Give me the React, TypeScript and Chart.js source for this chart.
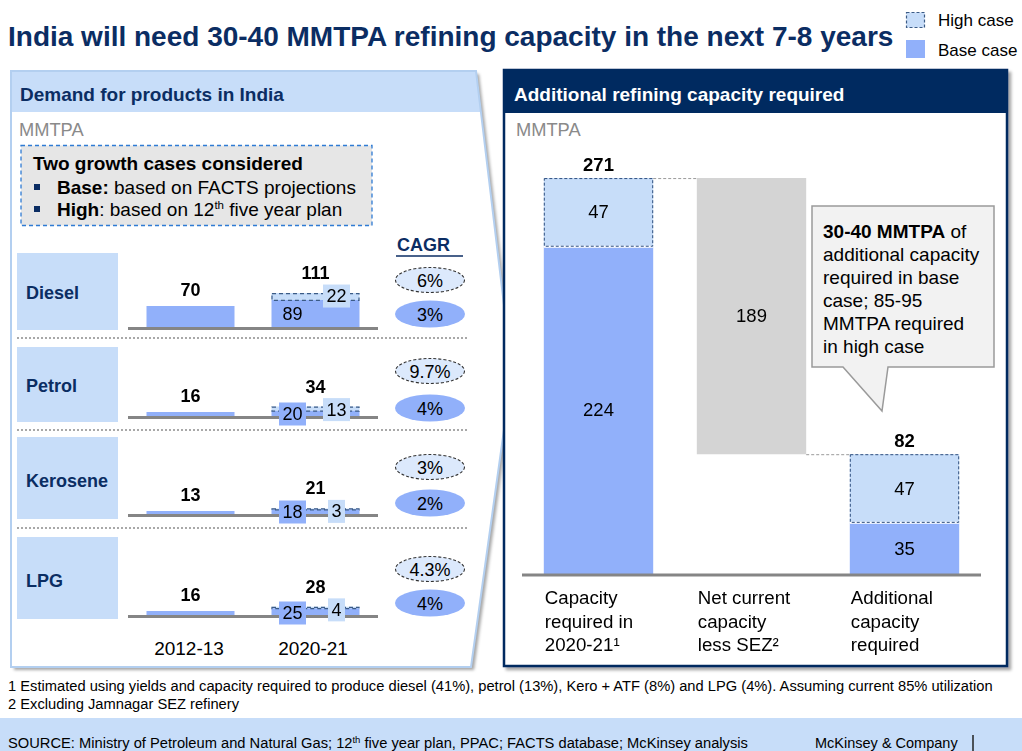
import React, { useEffect, useRef } from "react";
import { Chart, registerables } from "chart.js";

Chart.register(...registerables);

const FONT = "'Liberation Sans', Arial, Helvetica, sans-serif";
const NAVY = "#002a60";
const TEXT_NAVY = "#0b2d63";
const BASE_BLUE = "#91b0fa";
const HIGH_BLUE = "#c7ddf9";
const GRAY_BAR = "#d4d4d4";
const AXIS_GRAY = "#858585";

// ---------- Data ----------
const demandYears = ["2012-13", "2020-21"];
const productNames = ["Diesel", "Petrol", "Kerosene", "LPG"];
const dieselBase = [70, 89];
const dieselHigh = [0, 22];
const dieselTotal = [70, 111];
const petrolBase = [16, 20];
const petrolHigh = [0, 13];
const petrolTotal = [16, 34];
const keroseneBase = [13, 18];
const keroseneHigh = [0, 3];
const keroseneTotal = [13, 21];
const lpgBase = [16, 25];
const lpgHigh = [0, 4];
const lpgTotal = [16, 28];
const cagrHigh = ["6%", "9.7%", "3%", "4.3%"];
const cagrBase = ["3%", "4%", "2%", "4%"];

const capacityCategories = [
  ["Capacity", "required in", "2020-21\u00B9"],
  ["Net current", "capacity", "less SEZ\u00B2"],
  ["Additional", "capacity", "required"],
];
const capacityBase = [224, null, 35];
const capacityHigh = [47, null, 47];
const capacityNet = [null, 189, null];
const capacityTotal = [271, null, 82];

// ---------- Layout ----------
const demandRows = [
  { base: dieselBase, high: dieselHigh, total: dieselTotal, baseline: 328, box: [253, 330], labelY: 292, cagrY: [280, 314] },
  { base: petrolBase, high: petrolHigh, total: petrolTotal, baseline: 417, box: [347, 422], labelY: 385, cagrY: [371, 408] },
  { base: keroseneBase, high: keroseneHigh, total: keroseneTotal, baseline: 515, box: [437, 519], labelY: 480, cagrY: [467, 503] },
  { base: lpgBase, high: lpgHigh, total: lpgTotal, baseline: 616, box: [537, 619], labelY: 580, cagrY: [569, 603] },
];

const SMALL_H = 100;
const SMALL_BOTTOM_PAD = 22;
const SMALL_YMAX = (SMALL_H - SMALL_BOTTOM_PAD) / 0.315;

function DemandChart({ row }: { row: any }) {
  const ref = useRef<HTMLCanvasElement>(null);
  useEffect(() => {
    const { base, high, total } = row;
    const labelsPlugin = {
      id: "demandLabels",
      afterDatasetsDraw(chart: any) {
        const ctx = chart.ctx;
        const area = chart.chartArea;
        ctx.save();
        ctx.strokeStyle = AXIS_GRAY;
        ctx.lineWidth = 3;
        ctx.beginPath();
        ctx.moveTo(area.left, area.bottom + 0.5);
        ctx.lineTo(area.right, area.bottom + 0.5);
        ctx.stroke();
        const mBase = chart.getDatasetMeta(0);
        const mHigh = chart.getDatasetMeta(1);
        ctx.textAlign = "center";
        ctx.textBaseline = "middle";
        mBase.data.forEach((b: any, i: number) => {
          const h: any = mHigh.data[i];
          const hasHigh = high[i] > 0;
          const top = hasHigh ? h.y : b.y;
          if (hasHigh) {
            ctx.setLineDash([4, 3]);
            ctx.strokeStyle = "#3b5b86";
            ctx.lineWidth = 1.2;
            ctx.strokeRect(h.x - h.width / 2 + 0.5, h.y + 0.5, h.width - 1, h.base - h.y);
            ctx.setLineDash([]);
            ctx.font = `18px ${FONT}`;
            // base value
            const bx = b.x - 23;
            if (b.base - b.y >= 20) {
              ctx.fillStyle = "#000";
              ctx.fillText(String(base[i]), bx, (b.y + b.base) / 2 + 1);
            } else {
              const by = area.bottom - 3;
              ctx.fillStyle = BASE_BLUE;
              ctx.fillRect(bx - 13.5, by - 11.5, 27, 23);
              ctx.fillStyle = "#000";
              ctx.fillText(String(base[i]), bx, by + 1);
            }
            // high value
            const hx = b.x + 21;
            const hy = h.y + 3;
            const w = Math.max(17, ctx.measureText(String(high[i])).width + 7);
            ctx.fillStyle = HIGH_BLUE;
            ctx.fillRect(hx - w / 2, hy - 11.5, w, 23);
            ctx.fillStyle = "#000";
            ctx.fillText(String(high[i]), hx, hy + 1);
          }
          ctx.font = `bold 18px ${FONT}`;
          ctx.fillStyle = "#000";
          ctx.fillText(String(total[i]), b.x, top - (hasHigh ? 19 : 15));
        });
        ctx.restore();
      },
    };
    const chart = new Chart(ref.current as HTMLCanvasElement, {
      type: "bar",
      data: {
        labels: demandYears,
        datasets: [
          { label: "Base case", data: base, backgroundColor: BASE_BLUE, barPercentage: 0.704, categoryPercentage: 1 },
          { label: "High case", data: high, backgroundColor: HIGH_BLUE, barPercentage: 0.704, categoryPercentage: 1 },
        ],
      },
      options: {
        animation: false,
        responsive: false,
        maintainAspectRatio: false,
        events: [],
        layout: { padding: { left: 10, right: 10, top: 0, bottom: SMALL_BOTTOM_PAD } },
        plugins: { legend: { display: false }, tooltip: { enabled: false } },
        scales: {
          x: { display: false, stacked: true },
          y: { display: false, stacked: true, min: 0, max: SMALL_YMAX },
        },
      },
      plugins: [labelsPlugin],
    });
    return () => chart.destroy();
  }, [row]);
  const top = row.baseline - (SMALL_H - SMALL_BOTTOM_PAD);
  return (
    <canvas
      ref={ref}
      width={270}
      height={SMALL_H}
      style={{ position: "absolute", left: 118, top, width: 270, height: SMALL_H }}
    />
  );
}

const CAP_TOP = 140;
const CAP_H = 520;
const CAP_PAD_TOP = 10;
const CAP_PAD_BOTTOM = 86;
const CAP_YMAX = (CAP_H - CAP_PAD_TOP - CAP_PAD_BOTTOM) / 1.461;

function CapacityChart() {
  const ref = useRef<HTMLCanvasElement>(null);
  useEffect(() => {
    const requiredTotal = capacityTotal[0] as number;
    const netFloating = capacityNet.map((v) => (v == null ? null : [requiredTotal - v, requiredTotal]));
    const plugin = {
      id: "capLabels",
      afterDatasetsDraw(chart: any) {
        const ctx = chart.ctx;
        const area = chart.chartArea;
        const mB = chart.getDatasetMeta(0);
        const mH = chart.getDatasetMeta(1);
        const mN = chart.getDatasetMeta(2);
        ctx.save();
        // baseline
        ctx.strokeStyle = AXIS_GRAY;
        ctx.lineWidth = 3;
        ctx.beginPath();
        ctx.moveTo(area.left, area.bottom + 1);
        ctx.lineTo(area.right, area.bottom + 1);
        ctx.stroke();
        // high segments: separator + dashed border
        capacityHigh.forEach((v, i) => {
          if (v == null) return;
          const h: any = mH.data[i];
          const l = h.x - h.width / 2;
          ctx.strokeStyle = "#ffffff";
          ctx.lineWidth = 2;
          ctx.beginPath();
          ctx.moveTo(l, h.base);
          ctx.lineTo(l + h.width, h.base);
          ctx.stroke();
          ctx.setLineDash([3, 2]);
          ctx.strokeStyle = "#2f4f7f";
          ctx.lineWidth = 1;
          ctx.strokeRect(l + 0.5, h.y + 0.5, h.width - 1, h.base - h.y - 1);
          ctx.setLineDash([]);
        });
        // connectors
        const b0: any = mH.data[0];
        const n1: any = mN.data[1];
        const h2: any = mH.data[2];
        const nBot = Math.max(n1.y, n1.base);
        ctx.setLineDash([3, 2]);
        ctx.strokeStyle = "#9a9a9a";
        ctx.lineWidth = 1;
        ctx.beginPath();
        ctx.moveTo(b0.x + b0.width / 2, b0.y + 0.5);
        ctx.lineTo(n1.x - n1.width / 2, b0.y + 0.5);
        ctx.moveTo(n1.x + n1.width / 2, nBot + 0.5);
        ctx.lineTo(h2.x - h2.width / 2, nBot + 0.5);
        ctx.stroke();
        ctx.setLineDash([]);
        // values
        ctx.textAlign = "center";
        ctx.textBaseline = "middle";
        ctx.fillStyle = "#000";
        ctx.font = `18.5px ${FONT}`;
        capacityBase.forEach((v, i) => {
          if (v == null) return;
          const b: any = mB.data[i];
          ctx.fillText(String(v), b.x, (b.y + b.base) / 2 + 1);
        });
        capacityHigh.forEach((v, i) => {
          if (v == null) return;
          const h: any = mH.data[i];
          ctx.fillText(String(v), h.x, (h.y + h.base) / 2 + 1);
        });
        capacityNet.forEach((v, i) => {
          if (v == null) return;
          const n: any = mN.data[i];
          ctx.fillText(String(v), n.x, (n.y + n.base) / 2 + 1);
        });
        ctx.font = `bold 18.5px ${FONT}`;
        capacityTotal.forEach((v, i) => {
          if (v == null) return;
          const h: any = mH.data[i];
          ctx.fillText(String(v), h.x, h.y - 12);
        });
        // category labels
        ctx.font = `18.7px ${FONT}`;
        ctx.textAlign = "left";
        capacityCategories.forEach((lines, i) => {
          const el: any = mB.data[i] && !isNaN(mB.data[i].x) ? mB.data[i] : mN.data[i];
          const x = el.x - el.width / 2 + 1;
          lines.forEach((t, k) => {
            ctx.fillText(t, x, area.bottom + 25 + k * 23.5);
          });
        });
        ctx.restore();
      },
    };
    const chart = new Chart(ref.current as HTMLCanvasElement, {
      type: "bar",
      data: {
        labels: capacityCategories.map((c) => c.join(" ")),
        datasets: [
          { label: "Base case", data: capacityBase, backgroundColor: BASE_BLUE, barPercentage: 0.715, categoryPercentage: 1 },
          { label: "High case", data: capacityHigh, backgroundColor: HIGH_BLUE, barPercentage: 0.715, categoryPercentage: 1 },
          { label: "Net current capacity", data: netFloating as any, backgroundColor: GRAY_BAR, barPercentage: 0.715, categoryPercentage: 1 },
        ],
      },
      options: {
        animation: false,
        responsive: false,
        maintainAspectRatio: false,
        events: [],
        layout: { padding: { left: 10, right: 10, top: CAP_PAD_TOP, bottom: CAP_PAD_BOTTOM } },
        plugins: { legend: { display: false }, tooltip: { enabled: false } },
        scales: {
          x: { display: false, stacked: true },
          y: { display: false, stacked: true, min: 0, max: CAP_YMAX },
        },
      },
      plugins: [plugin],
    });
    return () => chart.destroy();
  }, []);
  return (
    <canvas
      ref={ref}
      width={479}
      height={CAP_H}
      style={{ position: "absolute", left: 512, top: CAP_TOP, width: 479, height: CAP_H }}
    />
  );
}

function Decor() {
  return (
    <svg width={1022} height={751} style={{ position: "absolute", left: 0, top: 0 }} fontFamily={FONT}>
      <defs>
        <filter id="sh" x="-5%" y="-5%" width="115%" height="115%">
          <feDropShadow dx="3" dy="3" stdDeviation="1.8" floodColor="#000" floodOpacity="0.35" />
        </filter>
        <clipPath id="leftClip">
          <polygon points="11,71 476,71 512,372 471,667 11,667" />
        </clipPath>
      </defs>
      {/* Title */}
      <text x={8} y={46} fontSize={28} fontWeight="bold" fill={TEXT_NAVY}>
        India will need 30-40 MMTPA refining capacity in the next 7-8 years
      </text>
      {/* Legend */}
      <rect x={906.5} y={12.5} width={18} height={15} fill={HIGH_BLUE} stroke="#3b5b86" strokeDasharray="3 2" strokeWidth={1.2} />
      <text x={938} y={26} fontSize={17} fill="#000">High case</text>
      <rect x={906} y={40} width={19} height={18} fill={BASE_BLUE} />
      <text x={938} y={56} fontSize={17} fill="#000">Base case</text>

      {/* Left panel */}
      <polygon points="11,71 476,71 512,372 471,667 11,667" fill="#fff" filter="url(#sh)" />
      <rect x={0} y={71} width={520} height={41} fill={HIGH_BLUE} clipPath="url(#leftClip)" />
      <polygon points="11,71 476,71 512,372 471,667 11,667" fill="none" stroke="#b3cff0" strokeWidth={2} />
      <text x={20} y={100.5} fontSize={19} fontWeight="bold" fill={TEXT_NAVY}>Demand for products in India</text>
      <text x={19} y={136} fontSize={18.3} fill="#8a8a8a">MMTPA</text>
      <rect x={21} y={145.5} width={351} height={80} fill="#e6e6e6" stroke="#2f7bd4" strokeDasharray="4 3" strokeWidth={1.3} />
      <text x={33} y={169.5} fontSize={19} fontWeight="bold" fill="#000">Two growth cases considered</text>
      <rect x={34} y={184} width={6} height={6} fill={TEXT_NAVY} />
      <text x={57} y={193.5} fontSize={19} fill="#000">
        <tspan fontWeight="bold">Base:</tspan> based on FACTS projections
      </text>
      <rect x={34} y={206} width={6} height={6} fill={TEXT_NAVY} />
      <text x={57} y={215.5} fontSize={19} fill="#000">
        <tspan fontWeight="bold">High</tspan>: based on 12<tspan fontSize={11.5} dy={-7}>th</tspan>
        <tspan dy={7}> five year plan</tspan>
      </text>
      <text x={397} y={251} fontSize={18} fontWeight="bold" fill={TEXT_NAVY}>CAGR</text>
      <line x1={396} y1={256} x2={463} y2={256} stroke={TEXT_NAVY} strokeWidth={1.5} />
      {demandRows.map((r, i) => (
        <g key={i}>
          <rect x={17} y={r.box[0]} width={101} height={r.box[1] - r.box[0]} fill={HIGH_BLUE} />
          <text x={26} y={r.labelY + 6.5} fontSize={18} fontWeight="bold" fill={TEXT_NAVY}>{productNames[i]}</text>
          <ellipse cx={430} cy={r.cagrY[0]} rx={34.5} ry={12.5} fill="#dce9fc" stroke="#333" strokeDasharray="3 2" strokeWidth={1.1} />
          <text x={430} y={r.cagrY[0] + 6.5} fontSize={18} textAnchor="middle" fill="#000">{cagrHigh[i]}</text>
          <ellipse cx={430} cy={r.cagrY[1]} rx={35} ry={13.5} fill={BASE_BLUE} />
          <text x={430} y={r.cagrY[1] + 6.5} fontSize={18} textAnchor="middle" fill="#000">{cagrBase[i]}</text>
        </g>
      ))}
      {[338, 430, 528].map((y) => (
        <line key={y} x1={17} y1={y} x2={468} y2={y} stroke="#8c8c8c" strokeDasharray="2 2" strokeWidth={1.5} />
      ))}
      <text x={189} y={654.5} fontSize={19} textAnchor="middle" fill="#000">{demandYears[0]}</text>
      <text x={313} y={654.5} fontSize={19} textAnchor="middle" fill="#000">{demandYears[1]}</text>

      {/* Right panel */}
      <rect x={504} y={70} width={503} height={596} fill="#fff" stroke={NAVY} strokeWidth={2.5} filter="url(#sh)" />
      <rect x={503} y={69} width={505} height={44} fill={NAVY} />
      <text x={514} y={100.5} fontSize={19} fontWeight="bold" fill="#fff">Additional refining capacity required</text>
      <text x={516} y={136} fontSize={18.3} fill="#8a8a8a">MMTPA</text>
      <path d="M812,206 H994 V367 H888 L882,411 L843,367 H812 Z" fill="#f2f2f2" stroke="#9a9a9a" strokeWidth={1.5} />
      <text x={823} y={237.5} fontSize={19} fill="#000">
        <tspan fontWeight="bold">30-40 MMTPA</tspan> of
      </text>
      <text x={823} y={260.5} fontSize={19} fill="#000">additional capacity</text>
      <text x={823} y={283.5} fontSize={19} fill="#000">required in base</text>
      <text x={823} y={306.5} fontSize={19} fill="#000">case; 85-95</text>
      <text x={823} y={329.5} fontSize={19} fill="#000">MMTPA required</text>
      <text x={823} y={352.5} fontSize={19} fill="#000">in high case</text>

      {/* Footnotes */}
      <text x={8} y={691} fontSize={14.7} fill="#000">
        1 Estimated using yields and capacity required to produce diesel (41%), petrol (13%), Kero + ATF (8%) and LPG (4%). Assuming current 85% utilization
      </text>
      <text x={8} y={708.5} fontSize={14.7} fill="#000">2 Excluding Jamnagar SEZ refinery</text>
      <rect x={0} y={718} width={1022} height={33} fill={HIGH_BLUE} />
      <text x={8} y={748} fontSize={14.7} fill="#000">
        SOURCE: Ministry of Petroleum and Natural Gas; 12<tspan fontSize={9.5} dy={-5}>th</tspan>
        <tspan dy={5}> five year plan, PPAC; FACTS database; McKinsey analysis</tspan>
      </text>
      <text x={815} y={748} fontSize={14.5} fill="#000">McKinsey &amp; Company</text>
      <line x1={973} y1={735} x2={973} y2={751} stroke="#222" strokeWidth={1.5} />
    </svg>
  );
}

export default function App() {
  return (
    <div style={{ position: "absolute", left: 0, top: 0, width: 1022, height: 751, background: "#fff", overflow: "hidden", fontFamily: FONT }}>
      <Decor />
      {demandRows.map((r, i) => (
        <DemandChart key={i} row={r} />
      ))}
      <CapacityChart />
    </div>
  );
}
